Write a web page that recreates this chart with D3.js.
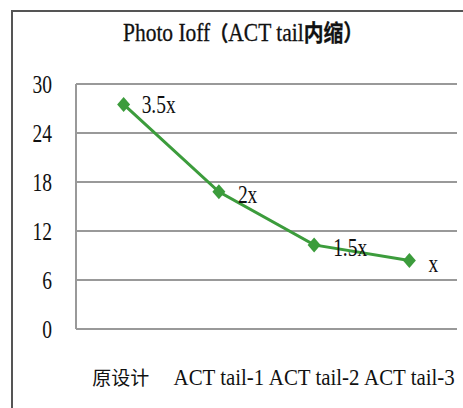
<!DOCTYPE html>
<html>
<head>
<meta charset="utf-8">
<script src="https://cdn.jsdelivr.net/npm/d3@7"></script>
<style>
  body { margin: 0; background: #fff; }
  text { font-family: "Liberation Serif", "Times New Roman", serif; fill: #111; }
</style>
</head>
<body>
<div id="app"></div>
<script>
// chart data
const categories = ["原设计", "ACT tail-1", "ACT tail-2", "ACT tail-3"];
const ioffValues = [27.5, 16.8, 10.3, 8.4];
const pointLabels = ["3.5x", "2x", "1.5x", "x"];
const yTicks = [0, 6, 12, 18, 24, 30];

const w = 463, h = 408;
const plotLeft = 76, plotRight = 457, plotTop = 84, plotBottom = 329;
const cjk = "'Noto Sans CJK SC', sans-serif";

const svg = d3.select("#app")
  .append("svg")
  .attr("width", w)
  .attr("height", h)
  .style("background-color", "#fff");

// outer frame (clipped on right and bottom)
svg.append("path")
  .attr("d", `M12,${h + 5} L12,11 L${w + 5},11`)
  .attr("fill", "none")
  .attr("stroke", "#555")
  .attr("stroke-width", 2);

// title
const title = svg.append("text")
  .attr("transform", "translate(243,41) scale(0.86,1)")
  .style("text-anchor", "middle")
  .style("font-size", "25px")
  .style("stroke", "#111")
  .style("stroke-width", "0.3px");
title.append("tspan").text("Photo Ioff");
title.append("tspan").style("font-family", cjk).style("font-size", "21px").style("font-weight", "bold").text("（");
title.append("tspan").text("ACT tail");
title.append("tspan").style("font-family", cjk).style("font-size", "23px").style("font-weight", "bold").text("内缩）");

const xScale = d3.scaleBand()
  .domain(categories)
  .range([plotLeft, plotRight]);

const yScale = d3.scaleLinear()
  .domain([0, 30])
  .range([plotBottom, plotTop]);

// gridlines
svg.append("g")
  .selectAll("line")
  .data(yTicks)
  .enter()
  .append("line")
  .attr("x1", plotLeft)
  .attr("x2", plotRight)
  .attr("y1", d => yScale(d))
  .attr("y2", d => yScale(d))
  .attr("stroke", "#999")
  .attr("stroke-width", 2);

// left plot border
svg.append("line")
  .attr("x1", plotLeft).attr("x2", plotLeft)
  .attr("y1", yScale(30)).attr("y2", yScale(0))
  .attr("stroke", "#999")
  .attr("stroke-width", 2);

// y tick labels
svg.append("g")
  .selectAll("text")
  .data(yTicks)
  .enter()
  .append("text")
  .attr("transform", d => `translate(52,${yScale(d) + 9}) scale(0.75,1)`)
  .style("text-anchor", "end")
  .style("font-size", "26px")
  .text(d => d);

// x category labels
svg.append("g")
  .selectAll("text")
  .data(categories)
  .enter()
  .append("text")
  .attr("transform", (d, i) => `translate(${xScale(d) + xScale.bandwidth() / 2 - (i === 0 ? 3 : 0)},385) scale(${i === 0 ? 1 : 0.87},1)`)
  .style("text-anchor", "middle")
  .style("font-family", (d, i) => i === 0 ? cjk : null)
  .style("font-size", (d, i) => i === 0 ? "19px" : "24px")
  .text(d => d);

const cx = d => xScale(d) + xScale.bandwidth() / 2;

// line
const line = d3.line()
  .x((d, i) => cx(categories[i]))
  .y(d => yScale(d));

svg.append("path")
  .datum(ioffValues)
  .attr("fill", "none")
  .attr("stroke", "#3c9c3c")
  .attr("stroke-width", 3)
  .attr("d", line);

// diamond markers
svg.append("g")
  .selectAll("path")
  .data(ioffValues)
  .enter()
  .append("path")
  .attr("transform", (d, i) => `translate(${cx(categories[i])},${yScale(d)})`)
  .attr("d", "M0,-7.5 L6.5,0 L0,7.5 L-6.5,0 Z")
  .attr("fill", "#3c9c3c");

// point labels
const labelOffsets = [[18, 9], [19, 11], [19, 11], [19, 12]];
svg.append("g")
  .selectAll("text")
  .data(ioffValues)
  .enter()
  .append("text")
  .attr("transform", (d, i) => `translate(${cx(categories[i]) + labelOffsets[i][0]},${yScale(d) + labelOffsets[i][1]}) scale(0.75,1)`)
  .style("font-size", "26px")
  .text((d, i) => pointLabels[i]);
</script>
</body>
</html>
